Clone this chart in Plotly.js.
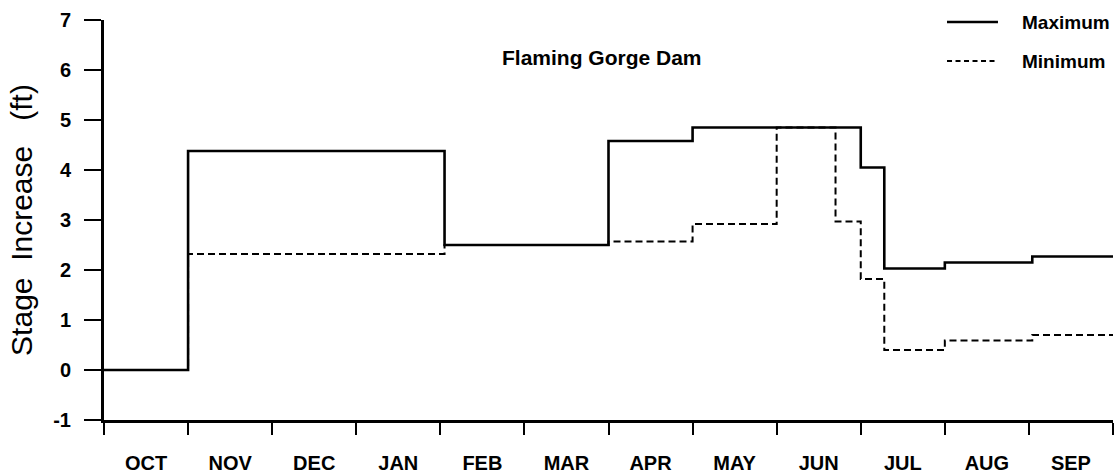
<!DOCTYPE html>
<html>
<head>
<meta charset="utf-8">
<script src="https://cdn.plot.ly/plotly-3.0.1.min.js"></script>
<style>
html,body{margin:0;padding:0;background:#fff;}
#chart{width:1119px;height:473px;}
</style>
</head>
<body>
<div id="chart"></div>
<script>
// Month labels (each occupies one unit on the x axis, OCT starts at 0)
const months = ["OCT","NOV","DEC","JAN","FEB","MAR","APR","MAY","JUN","JUL","AUG","SEP"];
// Step breakpoints (month position) and stage increase (ft) for each series
const maxX = [0, 1, 4.05, 6, 7, 9, 9.28, 10, 11.04, 12];
const maxY = [0, 4.38, 2.5, 4.58, 4.85, 4.05, 2.03, 2.15, 2.27, 2.27];
const minX = [0, 1, 4.05, 6, 7, 8, 8.7, 9, 9.28, 10, 11.04, 12];
const minY = [0, 2.32, 2.5, 2.57, 2.92, 4.85, 2.97, 1.82, 0.40, 0.59, 0.70, 0.70];
const yTicks = [-1, 0, 1, 2, 3, 4, 5, 6, 7];
const yTickText = ["-1", "0", "1", "2", "3", "4", "5", "6", "7"];
const seriesNames = ["Maximum", "Minimum"];

const font = "Liberation Sans, Arial, Helvetica, sans-serif";
const dashMain = "7px,4px";
const dashLegend = "5px,3.5px";

const traces = [
  {x: minX, y: minY, mode: "lines", name: seriesNames[1], line: {shape: "hv", color: "#000", width: 2, dash: dashMain}},
  {x: maxX, y: maxY, mode: "lines", name: seriesNames[0], line: {shape: "hv", color: "#000", width: 2.6}}
];

// hand-built legend (two rows, right-top corner)
const legRows = [
  {name: seriesNames[0], y: 0.995, dash: "solid", width: 2.4},
  {name: seriesNames[1], y: 0.8975, dash: dashLegend, width: 1.8}
];
const shapes = legRows.map(r => ({type: "line", xref: "paper", yref: "paper",
  x0: 0.8355, x1: 0.886, y0: r.y, y1: r.y, line: {color: "#000", width: r.width, dash: r.dash}}));
const legAnn = legRows.map(r => ({text: r.name, xref: "paper", yref: "paper", x: 0.9075, y: r.y,
  xanchor: "left", yanchor: "middle", showarrow: false,
  font: {family: font, size: 19, color: "#000", weight: "bold"}}));

const layout = {
  width: 1119, height: 473,
  margin: {l: 104, r: 6, t: 20, b: 53},
  paper_bgcolor: "#fff", plot_bgcolor: "#fff",
  showlegend: false,
  xaxis: {
    range: [0, 12], showgrid: false, zeroline: false,
    showline: true, linecolor: "#000", linewidth: 3,
    tickmode: "array", tickvals: months.map((m, i) => i + 0.5), ticktext: months,
    ticks: "", ticklabelstandoff: 23,
    tickfont: {family: font, size: 20, color: "#000", weight: "bold"},
    minor: {tickmode: "array", tickvals: months.map((m, i) => i).concat([12]), ticks: "outside", ticklen: 12, tickwidth: 2, tickcolor: "#000", showgrid: false}
  },
  yaxis: {
    range: [-1, 7], showgrid: false, zeroline: false,
    showline: true, linecolor: "#000", linewidth: 3,
    tickmode: "array", tickvals: yTicks, ticktext: yTickText,
    ticks: "outside", ticklen: 17, tickwidth: 2, tickcolor: "#000",
    ticklabelstandoff: 9,
    tickfont: {family: font, size: 20, color: "#000", weight: "bold"},
    title: {text: "Stage\u00a0\u00a0Increase\u00a0\u00a0\u00a0(ft)", font: {family: font, size: 30, color: "#000"}, standoff: 12}
  },
  shapes: shapes,
  annotations: [
    {text: "Flaming Gorge Dam", xref: "paper", yref: "y", x: 0.4933, y: 6.26, showarrow: false,
     font: {family: font, size: 21, color: "#000", weight: "bold"}}
  ].concat(legAnn)
};

Plotly.newPlot("chart", traces, layout, {displayModeBar: false, staticPlot: true});
</script>
</body>
</html>
